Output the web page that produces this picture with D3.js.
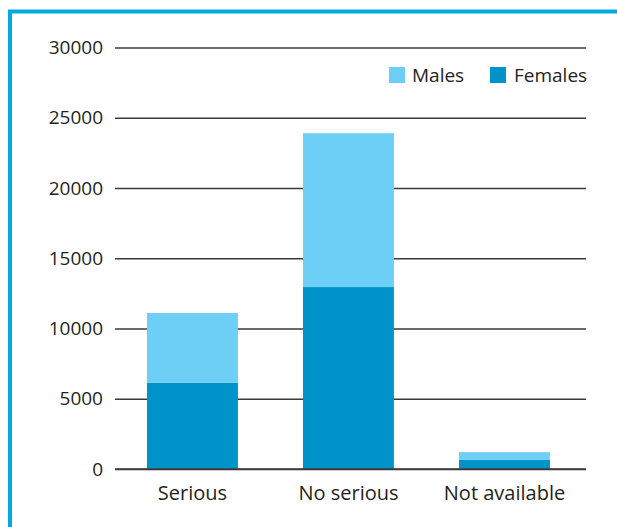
<!DOCTYPE html>
<html><head><meta charset="utf-8">
<script src="https://cdn.jsdelivr.net/npm/d3@7"></script>
<style>body{margin:0;background:#fff}svg{display:block}</style>
</head><body>
<svg id="c" width="617" height="527"></svg>
<script>
const categories = ["Serious", "No serious", "Not available"];
const females = [6150, 12950, 650];
const males = [4950, 10950, 550];
const yTicks = [0, 5000, 10000, 15000, 20000, 25000, 30000];
const seriesNames = ["Males", "Females"];

const colors = {Males: "#6dcff6", Females: "#0093c9"};
const svg = d3.select("#c");
const W = 617, H = 527;
const m = {left: 115, right: 31, top: 47.5, bottom: 58};

// frame
svg.append("path").attr("d", `M10,${H} V11.5 H${W}`)
  .attr("fill", "none").attr("stroke", "#00a9e0").attr("stroke-width", 4);

const x = d3.scaleBand().domain(categories).range([m.left, W - m.right])
  .paddingInner(0.417).paddingOuter(0.218).align(0.47);
const y = d3.scaleLinear().domain([0, 30000]).range([469, m.top]);

const font = "'Open Sans', sans-serif";
const yAxis = d3.axisLeft(y).tickValues(yTicks).tickSize(-(W - m.right - m.left)).tickPadding(12).tickFormat(d3.format("d"));
const gy = svg.append("g").attr("transform", `translate(${m.left},0)`).call(yAxis);
gy.select(".domain").remove();
gy.selectAll(".tick line").attr("stroke", "#3a3a3a").attr("stroke-width", 1.3);
gy.selectAll(".tick text").attr("font-family", font).attr("font-size", 19).attr("fill", "#231f20").attr("x", -12);

const rows = categories.map((c, i) => ({cat: c, Females: females[i], Males: males[i]}));
const stack = d3.stack().keys(["Females", "Males"])(rows);
svg.append("g").selectAll("g").data(stack).join("g")
  .attr("fill", d => colors[d.key])
  .selectAll("rect").data(d => d).join("rect")
  .attr("x", d => x(d.data.cat)).attr("width", x.bandwidth())
  .attr("y", d => y(d[1])).attr("height", d => y(d[0]) - y(d[1]));

// baseline redraw on top
svg.append("line").attr("x1", m.left).attr("x2", W - m.right).attr("y1", y(0)).attr("y2", y(0))
  .attr("stroke", "#3a3a3a").attr("stroke-width", 1.3);

const xAxis = d3.axisBottom(x).tickSize(0).tickPadding(17);
const gx = svg.append("g").attr("transform", `translate(0,${y(0)})`).call(xAxis);
gx.select(".domain").remove();
gx.selectAll(".tick text").attr("font-family", font).attr("font-size", 20).attr("fill", "#231f20");

// legend
const leg = [{k: "Males", x: 389, tx: 412}, {k: "Females", x: 490, tx: 514}];
const lg = svg.append("g");
lg.selectAll("rect").data(leg).join("rect").attr("x", d => d.x).attr("y", 67).attr("width", 16).attr("height", 16).attr("fill", d => colors[d.k]);
lg.selectAll("text").data(leg).join("text").attr("x", d => d.tx).attr("y", 82).text(d => d.k)
  .attr("font-family", font).attr("font-size", 19).attr("fill", "#231f20");
</script>
</body></html>
